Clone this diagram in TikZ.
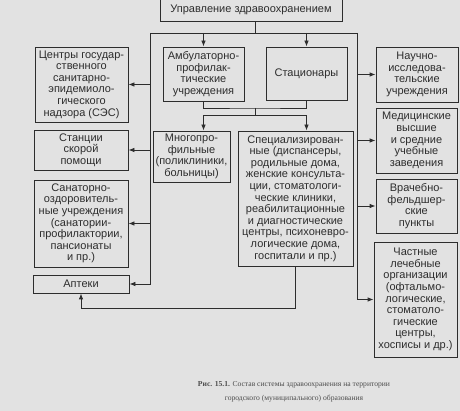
\documentclass[tikz,border=0pt]{standalone}
\usepackage{fontspec}
\setmainfont{Liberation Sans}
\newfontfamily\capfont{Liberation Serif}
\usepackage{xcolor}
\usepackage{tikz}
\usetikzlibrary{arrows.meta}
\definecolor{paper}{RGB}{226,226,226}
\definecolor{ink}{RGB}{45,45,45}

\begin{document}
\begin{tikzpicture}[x=1pt, y=-1pt, line width=0.8pt, color=ink,
  box/.style={draw, align=center, inner sep=1pt, font=\fontsize{11}{11.6}\selectfont},
  arr/.style={-{Latex[length=6pt,width=4.5pt]}}]
\fill[paper] (0,0) rectangle (460,411);
\useasboundingbox (0,0) rectangle (460,411);

\node[box, minimum width=182, minimum height=23] (mgmt) at (251,9.5) {Управление здравоохранением};

\node[box, minimum width=81, minimum height=54] (amb_care) at (203.5,74) {Амбулаторно-\\профилак-\\тические\\учреждения};
\node[box, minimum width=81, minimum height=53] (hospitals) at (306.5,73.5) {Стационары};
\node[box, minimum width=77, minimum height=51] (multi_prof) at (191.5,156.5) {Многопро-\\фильные\\(поликлиники,\\больницы)};
\node[box, minimum width=115, minimum height=135] (specialized) at (295.5,198.5) {Специализирован-\\ные (диспансеры,\\родильные дома,\\женские консульта-\\ции, стоматологи-\\ческие клиники,\\реабилитационные\\и диагностические\\центры, психоневро-\\логические дома,\\госпитали и пр.)};

\node[box, minimum width=93, minimum height=75] (ses_centers) at (81.5,84.5) {Центры государ-\\ственного\\санитарно-\\эпидемиоло-\\гического\\надзора (СЭС)};
\node[box, minimum width=94, minimum height=40] (ambulance) at (81,150) {Станции\\скорой\\помощи};
\node[box, minimum width=94, minimum height=87] (sanatoria) at (81,223.5) {Санаторно-\\оздоровитель-\\ные учреждения\\(санатории-\\профилактории,\\пансионаты\\и пр.)};
\node[box, minimum width=96, minimum height=18] (pharmacies) at (81,284) {Аптеки};

\node[box, minimum width=82, minimum height=55] (research) at (417,74.5) {Научно-\\исследова-\\тельские\\учреждения};
\node[box, minimum width=81, minimum height=65] (med_schools) at (416.5,140.5) {Медицинские\\высшие\\и средние\\учебные\\заведения};
\node[box, minimum width=81, minimum height=54] (feldsher) at (416.5,206) {Врачебно-\\фельдшер-\\ские\\пункты};
\node[box, minimum width=83, minimum height=115] (private_org) at (415.5,299.5) {Частные\\лечебные\\организации\\(офтальмо-\\логические,\\стоматоло-\\гические\\центры,\\хосписы и др.)};

\node[font=\capfont\fontsize{7.6}{14}\selectfont, align=center, text=ink!85] (caption) at (294,392) {\textbf{Рис. 15.1.} Состав системы здравоохранения на территории\\городского (муниципального) образования};

% main bus under the top box
\coordinate (bus_left) at (150,33);
\coordinate (bus_right) at (357,33);
\coordinate (bus_top) at (255,33);
\draw (mgmt.south -| bus_top) -- (bus_top);
\draw (bus_left) -- (bus_right);
\draw[arr] (amb_care.north |- bus_top) -- (amb_care.north);
\draw[arr] (hospitals.north |- bus_top) -- (hospitals.north);

% left branch
\draw[arr] (bus_left) |- (pharmacies.east);
\draw[arr] (ses_centers.east -| bus_left) -- (ses_centers.east);
\draw[arr] (ambulance.east -| bus_left) -- (ambulance.east);
\draw[arr] (sanatoria.east -| bus_left) -- (sanatoria.east);

% right branch
\draw[arr] (bus_right) |- (private_org.west);
\draw[arr] (research.west -| bus_right) -- (research.west);
\draw[arr] (med_schools.west -| bus_right) -- (med_schools.west);
\draw[arr] (feldsher.west -| bus_right) -- (feldsher.west);

% middle
\coordinate (join_up) at (255,108);
\coordinate (join_down) at (255,115);
\draw (amb_care.south) |- (join_up) -| (hospitals.south);
\draw (join_up) -- (join_down);
\draw[arr] (join_down) -| (amb_care.south |- multi_prof.north);
\draw[arr] (join_down) -| (hospitals.south |- specialized.north);
\draw[arr] (specialized.south) -- ++(0,42) -| (pharmacies.south);

\end{tikzpicture}
\end{document}
